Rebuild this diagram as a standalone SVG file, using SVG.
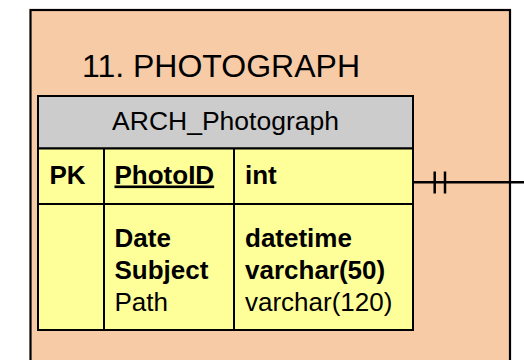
<svg xmlns="http://www.w3.org/2000/svg" width="524" height="360" viewBox="0 0 524 360">
<style>
text{font-family:"Liberation Sans",Arial,sans-serif;fill:#000}
.t{font-size:26px}
.b{font-weight:bold}
.ln{stroke:#000;stroke-width:2;fill:none}
.hd{fill:#CCCCCC}
.bd{fill:#FFFF99}
</style>
<rect width="524" height="360" fill="#fff"/>
<g id="package">
<rect x="30.5" y="10" width="479.5" height="360" fill="#F8CBA7" stroke="#000" stroke-width="2.2"/>
<text x="82" y="76.5" style="font-size:32px">11. PHOTOGRAPH</text>
</g>
<g id="ARCH_Photograph">
<rect x="38" y="96" width="375" height="52.5" class="ln hd"/>
<rect x="38" y="148.5" width="375" height="181.5" class="ln bd"/>
<line x1="38" y1="204" x2="413" y2="204" class="ln"/>
<line x1="104" y1="148.5" x2="104" y2="330" class="ln"/>
<line x1="234" y1="148.5" x2="234" y2="330" class="ln"/>
<text x="225.5" y="130" text-anchor="middle" style="font-size:26.5px">ARCH_Photograph</text>
<text x="49.5" y="183.5" class="t b">PK</text>
<text x="114.5" y="183.5" class="t b" text-decoration="underline">PhotoID</text>
<text x="245" y="183.5" class="t b">int</text>
<text x="114.5" y="247" class="t b">Date</text>
<text x="114.5" y="279" class="t b">Subject</text>
<text x="114.5" y="311" class="t">Path</text>
<text x="245" y="247" class="t b">datetime</text>
<text x="245" y="279" class="t b">varchar(50)</text>
<text x="245" y="311" class="t">varchar(120)</text>
</g>
<g id="connectors">
<line x1="413" y1="182.3" x2="524" y2="182.3" stroke="#000" stroke-width="2.5"/>
<line x1="434.7" y1="171.5" x2="434.7" y2="193.5" stroke="#000" stroke-width="2.5"/>
<line x1="445" y1="171.5" x2="445" y2="193.5" stroke="#000" stroke-width="2.5"/>
</g>
</svg>
